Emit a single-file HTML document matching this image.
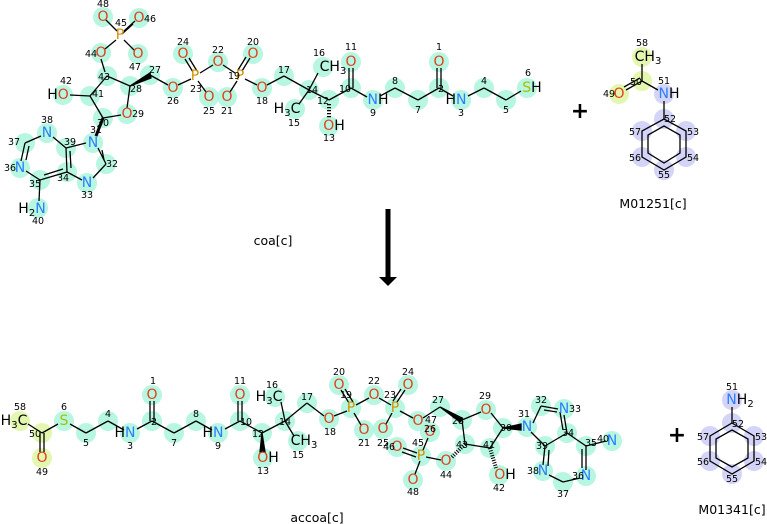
<!DOCTYPE html>
<html><head><meta charset="utf-8"><style>
html,body{margin:0;padding:0;background:#fff;width:767px;height:524px;overflow:hidden}
svg{display:block}
text{font-family:"DejaVu Sans","Liberation Sans",sans-serif}
.n{font-size:9.5px;fill:#000;text-anchor:middle}
.a{font-size:14px;text-anchor:middle;dominant-baseline:central}
.O{fill:#e0401c}.N{fill:#2a7fff}.P{fill:#d49000}.S{fill:#a8c000}.C{fill:#000}
.g circle{fill:#aaf5dc;opacity:.85}
.y circle{fill:#e4f7b0}
.v circle{fill:#d4d4f8}
line,polyline,polygon{stroke:#000;stroke-width:1.3;fill:none}
</style></head><body>
<svg width="767" height="524" viewBox="0 0 767 524">
<!-- highlight circles -->
<g class="g">
<circle cx="103" cy="17" r="10"/><circle cx="139" cy="18" r="10"/><circle cx="138" cy="54" r="10"/><circle cx="101" cy="53" r="10"/>
<circle cx="107" cy="76" r="10"/><circle cx="90" cy="96" r="10"/><circle cx="63" cy="95" r="10"/><circle cx="130" cy="86" r="10"/>
<circle cx="150" cy="75" r="10"/><circle cx="173" cy="88" r="10"/><circle cx="183" cy="54" r="10"/><circle cx="209" cy="97" r="10"/>
<circle cx="218" cy="62" r="10"/><circle cx="253" cy="54" r="10"/><circle cx="227" cy="97" r="10"/><circle cx="262" cy="88" r="10"/>
<circle cx="284" cy="76" r="10"/><circle cx="127" cy="114" r="10"/><circle cx="103" cy="118" r="10"/><circle cx="93" cy="143" r="10"/>
<circle cx="106" cy="164" r="10"/><circle cx="87" cy="183" r="10"/><circle cx="67" cy="172" r="10"/><circle cx="66" cy="148" r="10"/>
<circle cx="47" cy="133" r="10"/><circle cx="25" cy="143" r="10"/><circle cx="20" cy="168" r="10"/><circle cx="40" cy="180" r="10"/>
<circle cx="38" cy="208" r="10"/><circle cx="309" cy="90" r="10"/><circle cx="323" cy="67" r="10"/><circle cx="295" cy="109" r="10"/>
<circle cx="329" cy="100" r="10"/><circle cx="329" cy="126" r="10"/><circle cx="351" cy="88" r="10"/><circle cx="351" cy="62" r="10"/>
<circle cx="373" cy="100" r="10"/><circle cx="395" cy="88" r="10"/><circle cx="418" cy="100" r="10"/><circle cx="439" cy="88" r="10"/>
<circle cx="439" cy="62" r="10"/><circle cx="461" cy="100" r="10"/><circle cx="484" cy="88" r="10"/><circle cx="506" cy="100" r="10"/>
<circle cx="527" cy="88" r="10"/>
<!-- bottom -->
<circle cx="64" cy="421" r="10"/><circle cx="86" cy="433" r="10"/><circle cx="108" cy="421" r="10"/><circle cx="130" cy="433" r="10"/>
<circle cx="152" cy="421" r="10"/><circle cx="152" cy="395" r="10"/><circle cx="174" cy="433" r="10"/><circle cx="196" cy="421" r="10"/>
<circle cx="218" cy="433" r="10"/><circle cx="240" cy="421" r="10"/><circle cx="240" cy="395" r="10"/><circle cx="262" cy="433" r="10"/>
<circle cx="263" cy="458" r="10"/><circle cx="285" cy="421" r="10"/><circle cx="275" cy="397" r="10"/><circle cx="298" cy="441" r="10"/>
<circle cx="307" cy="403" r="10"/><circle cx="329" cy="419" r="10"/><circle cx="351" cy="408" r="10"/><circle cx="339" cy="385" r="10"/>
<circle cx="374" cy="395" r="10"/><circle cx="364" cy="430" r="10"/><circle cx="395" cy="408" r="10"/><circle cx="408" cy="385" r="10"/>
<circle cx="383" cy="429" r="10"/><circle cx="418" cy="421" r="10"/><circle cx="440" cy="407" r="10"/><circle cx="462" cy="420" r="10"/>
<circle cx="486" cy="410" r="10"/><circle cx="503" cy="428" r="10"/><circle cx="527" cy="427" r="10"/><circle cx="465" cy="444" r="10"/>
<circle cx="490" cy="448" r="10"/><circle cx="499" cy="475" r="10"/><circle cx="446" cy="461" r="10"/><circle cx="421" cy="456" r="10"/>
<circle cx="397" cy="447" r="10"/><circle cx="430" cy="432" r="10"/><circle cx="413" cy="480" r="10"/><circle cx="541" cy="406" r="10"/>
<circle cx="564" cy="409" r="10"/><circle cx="567" cy="433" r="10"/><circle cx="545" cy="446" r="10"/><circle cx="543" cy="471" r="10"/>
<circle cx="563" cy="482" r="10"/><circle cx="586" cy="476" r="10"/><circle cx="586" cy="446" r="10"/><circle cx="612" cy="441" r="10"/>
</g>
<g class="y">
<circle cx="642" cy="57" r="10"/><circle cx="642" cy="81" r="10"/><circle cx="619" cy="94" r="10"/>
<circle cx="20" cy="421" r="10"/><circle cx="42" cy="433" r="10"/><circle cx="42" cy="458" r="10"/>
</g>
<g class="v">
<circle cx="664" cy="94" r="10"/><circle cx="664" cy="119" r="10"/><circle cx="686" cy="131" r="10"/><circle cx="686" cy="157" r="10"/>
<circle cx="664" cy="170" r="10"/><circle cx="642" cy="157" r="10"/><circle cx="642" cy="131" r="10"/>
<circle cx="732" cy="400" r="10"/><circle cx="732" cy="423" r="10"/><circle cx="754" cy="436" r="10"/><circle cx="754" cy="461" r="10"/>
<circle cx="732" cy="474" r="10"/><circle cx="710" cy="461" r="10"/><circle cx="710" cy="436" r="10"/>
</g>

<!-- bonds top coa -->
<g>
<line x1="106" y1="20" x2="117" y2="31"/><line x1="124" y1="31" x2="135" y2="21"/><line x1="122" y1="34" x2="133" y2="24"/>
<line x1="124" y1="40" x2="134" y2="50"/><line x1="116" y1="40" x2="105" y2="49"/>
<line x1="101" y1="59" x2="105" y2="72"/><line x1="107" y1="76" x2="90" y2="96"/><line x1="107" y1="76" x2="130" y2="86"/>
<line x1="90" y1="96" x2="70" y2="95"/><line x1="90" y1="96" x2="103" y2="118"/><line x1="130" y1="86" x2="127" y2="108"/>
<line x1="121" y1="115" x2="103" y2="118"/><polygon points="130,86 150,73 151,78" style="fill:#000"/>
<line x1="150" y1="75" x2="168" y2="85"/><line x1="178" y1="85" x2="191" y2="79"/>
<line x1="193" y1="72" x2="185" y2="59"/><line x1="197" y1="71" x2="189" y2="58"/><line x1="198" y1="81" x2="206" y2="92"/>
<line x1="200" y1="73" x2="213" y2="65"/><line x1="223" y1="65" x2="235" y2="73"/>
<line x1="242" y1="71" x2="250" y2="58"/><line x1="238" y1="70" x2="246" y2="57"/><line x1="237" y1="81" x2="230" y2="92"/>
<line x1="245" y1="79" x2="257" y2="85"/><line x1="267" y1="85" x2="284" y2="76"/><line x1="284" y1="76" x2="309" y2="90"/>
<line x1="309" y1="90" x2="318" y2="73"/><line x1="309" y1="90" x2="299" y2="104"/><line x1="309" y1="90" x2="329" y2="100"/>
<line x1="329" y1="100" x2="351" y2="88"/><line x1="349" y1="88" x2="349" y2="68"/><line x1="353" y1="88" x2="353" y2="68"/>
<line x1="351" y1="88" x2="367" y2="97"/><line x1="380" y1="96" x2="395" y2="88"/><line x1="395" y1="88" x2="418" y2="100"/>
<line x1="418" y1="100" x2="439" y2="88"/><line x1="437" y1="88" x2="437" y2="68"/><line x1="441" y1="88" x2="441" y2="68"/>
<line x1="439" y1="88" x2="453" y2="96"/><line x1="468" y1="96" x2="484" y2="88"/><line x1="484" y1="88" x2="506" y2="100"/>
<line x1="506" y1="100" x2="521" y2="91"/>
<line x1="329" y1="104" x2="329" y2="119" stroke-dasharray="1.2,1.8" style="stroke-width:4"/>
<line x1="103" y1="118" x2="96" y2="136" style="stroke-width:3"/>
<line x1="86" y1="143" x2="66" y2="148"/><line x1="98" y1="148" x2="106" y2="164"/><line x1="102" y1="150" x2="104" y2="160"/>
<line x1="106" y1="164" x2="93" y2="178"/><line x1="82" y1="180" x2="67" y2="172"/><line x1="67" y1="172" x2="66" y2="148"/>
<line x1="66" y1="148" x2="53" y2="137"/><line x1="41" y1="136" x2="25" y2="143"/><line x1="25" y1="143" x2="21" y2="161"/>
<line x1="26" y1="171" x2="40" y2="180"/><line x1="40" y1="180" x2="67" y2="172"/><line x1="40" y1="180" x2="39" y2="201"/>
<line x1="29" y1="146" x2="26" y2="160"/><line x1="44" y1="175" x2="63" y2="169"/><line x1="70" y1="151" x2="71" y2="168"/>
</g>
<!-- bonds bottom accoa -->
<g>
<line x1="28" y1="424" x2="42" y2="433"/><line x1="40" y1="433" x2="40" y2="452"/><line x1="44" y1="433" x2="44" y2="452"/>
<line x1="42" y1="433" x2="58" y2="424"/><line x1="70" y1="424" x2="86" y2="433"/><line x1="86" y1="433" x2="108" y2="421"/>
<line x1="108" y1="421" x2="124" y2="430"/><line x1="137" y1="429" x2="152" y2="421"/><line x1="150" y1="421" x2="150" y2="401"/>
<line x1="154" y1="421" x2="154" y2="401"/><line x1="152" y1="421" x2="174" y2="433"/><line x1="174" y1="433" x2="196" y2="421"/>
<line x1="196" y1="421" x2="212" y2="430"/><line x1="225" y1="429" x2="240" y2="421"/><line x1="238" y1="421" x2="238" y2="401"/>
<line x1="242" y1="421" x2="242" y2="401"/><line x1="240" y1="421" x2="262" y2="433"/><line x1="262" y1="433" x2="285" y2="421"/>
<polygon points="262,433 260,452 265,452" style="fill:#000"/>
<line x1="285" y1="421" x2="281" y2="402"/><line x1="285" y1="421" x2="294" y2="436"/><line x1="285" y1="421" x2="307" y2="403"/>
<line x1="307" y1="403" x2="324" y2="416"/><line x1="334" y1="416" x2="347" y2="411"/>
<line x1="349" y1="403" x2="341" y2="390"/><line x1="353" y1="402" x2="345" y2="389"/><line x1="354" y1="413" x2="361" y2="425"/>
<line x1="356" y1="405" x2="369" y2="398"/><line x1="379" y1="398" x2="391" y2="405"/>
<line x1="397" y1="402" x2="405" y2="390"/><line x1="393" y1="401" x2="401" y2="389"/><line x1="392" y1="413" x2="386" y2="424"/>
<line x1="400" y1="411" x2="413" y2="418"/><line x1="423" y1="418" x2="440" y2="407"/><polygon points="440,407 462,418 460,422" style="fill:#000"/>
<line x1="462" y1="420" x2="481" y2="412"/><line x1="491" y1="413" x2="503" y2="428"/><polygon points="503,428 521,424 521,430" style="fill:#000"/>
<line x1="462" y1="420" x2="465" y2="444"/><line x1="465" y1="444" x2="490" y2="448"/><line x1="490" y1="448" x2="503" y2="428"/>
<line x1="465" y1="444" x2="451" y2="458" stroke-dasharray="1,1.5" style="stroke-width:4"/>
<line x1="490" y1="448" x2="496" y2="468" stroke-dasharray="1,1.5" style="stroke-width:4"/>
<line x1="441" y1="460" x2="426" y2="457"/><line x1="423" y1="450" x2="428" y2="438"/><line x1="420" y1="461" x2="415" y2="474"/>
<line x1="417" y1="453" x2="403" y2="448"/><line x1="416" y1="457" x2="402" y2="452"/>
<line x1="533" y1="423" x2="541" y2="406"/><line x1="541" y1="406" x2="558" y2="409"/><line x1="544" y1="410" x2="557" y2="412"/>
<line x1="564" y1="415" x2="567" y2="433"/><line x1="567" y1="433" x2="545" y2="446"/><line x1="531" y1="432" x2="545" y2="446"/>
<line x1="545" y1="446" x2="543" y2="465"/><line x1="549" y1="475" x2="563" y2="482"/><line x1="563" y1="482" x2="580" y2="478"/>
<line x1="586" y1="470" x2="586" y2="446"/><line x1="586" y1="446" x2="567" y2="433"/><line x1="586" y1="446" x2="606" y2="441"/>
<line x1="560" y1="412" x2="563" y2="430"/><line x1="549" y1="450" x2="548" y2="466"/><line x1="582" y1="449" x2="582" y2="468"/>
</g>
<!-- M01251 -->
<g>
<line x1="642" y1="64" x2="642" y2="81"/><line x1="642" y1="81" x2="626" y2="90"/><line x1="640" y1="78" x2="624" y2="87"/>
<line x1="642" y1="81" x2="658" y2="90"/><line x1="664" y1="101" x2="664" y2="119"/>
<polygon points="664,119 686,131 686,157 664,170 642,157 642,131"/>
<polygon points="664,126 680,135 680,153 664,163 648,153 648,135"/>
</g>
<!-- M01341 -->
<g>
<line x1="732" y1="407" x2="732" y2="423"/>
<polygon points="732,423 754,436 754,461 732,474 710,461 710,436"/>
<polygon points="732,430 748,439 748,458 732,467 716,458 716,439"/>
</g>

<!-- atom labels top -->
<g class="a">
<text x="103" y="17" class="O">O</text><text x="139" y="18" class="O">O</text><text x="120" y="35" class="P">P</text>
<text x="138" y="54" class="O">O</text><text x="101" y="53" class="O">O</text>
<text x="58" y="95"><tspan class="C">H</tspan><tspan class="O">O</tspan></text>
<text x="173" y="88" class="O">O</text><text x="195" y="76" class="P">P</text><text x="183" y="54" class="O">O</text>
<text x="209" y="97" class="O">O</text><text x="218" y="62" class="O">O</text><text x="240" y="76" class="P">P</text>
<text x="253" y="54" class="O">O</text><text x="227" y="97" class="O">O</text><text x="262" y="88" class="O">O</text>
<text x="127" y="114" class="O">O</text><text x="93" y="143" class="N">N</text><text x="87" y="183" class="N">N</text>
<text x="47" y="133" class="N">N</text><text x="20" y="168" class="N">N</text>
<text x="32" y="209"><tspan class="C">H</tspan><tspan class="C" font-size="10" dy="4">2</tspan><tspan class="N" dy="-4">N</tspan></text>
<text x="333" y="67"><tspan class="C">CH</tspan><tspan font-size="10" dy="4">3</tspan></text>
<text x="287" y="109"><tspan>H</tspan><tspan font-size="10" dy="4">3</tspan><tspan dy="-4">C</tspan></text>
<text x="334" y="126"><tspan class="O">O</tspan><tspan>H</tspan></text>
<text x="351" y="62" class="O">O</text><text x="378" y="100"><tspan class="N">N</tspan><tspan>H</tspan></text>
<text x="439" y="62" class="O">O</text><text x="456" y="100"><tspan>H</tspan><tspan class="N">N</tspan></text>
<text x="532" y="88"><tspan class="S">S</tspan><tspan>H</tspan></text>
</g>
<!-- atom labels bottom -->
<g class="a">
<text x="14" y="421"><tspan>H</tspan><tspan font-size="10" dy="4">3</tspan><tspan dy="-4">C</tspan></text>
<text x="42" y="458" class="O">O</text><text x="64" y="421" class="S">S</text>
<text x="125" y="433"><tspan>H</tspan><tspan class="N">N</tspan></text><text x="152" y="395" class="O">O</text>
<text x="213" y="433"><tspan>H</tspan><tspan class="N">N</tspan></text><text x="240" y="395" class="O">O</text>
<text x="268" y="458"><tspan class="O">O</tspan><tspan>H</tspan></text>
<text x="269" y="397"><tspan>H</tspan><tspan font-size="10" dy="4">3</tspan><tspan dy="-4">C</tspan></text>
<text x="304" y="441"><tspan>CH</tspan><tspan font-size="10" dy="4">3</tspan></text>
<text x="329" y="419" class="O">O</text><text x="351" y="408" class="P">P</text><text x="339" y="385" class="O">O</text>
<text x="374" y="395" class="O">O</text><text x="364" y="430" class="O">O</text><text x="395" y="408" class="P">P</text>
<text x="408" y="385" class="O">O</text><text x="383" y="429" class="O">O</text><text x="418" y="421" class="O">O</text>
<text x="486" y="410" class="O">O</text><text x="527" y="427" class="N">N</text>
<text x="505" y="475"><tspan class="O">O</tspan><tspan>H</tspan></text>
<text x="446" y="461" class="O">O</text><text x="421" y="456" class="P">P</text><text x="397" y="447" class="O">O</text>
<text x="430" y="432" class="O">O</text><text x="413" y="480" class="O">O</text>
<text x="564" y="409" class="N">N</text><text x="543" y="471" class="N">N</text><text x="586" y="476" class="N">N</text>
<text x="612" y="441" class="N">N</text>
</g>
<g class="a">
<text x="648" y="57"><tspan>CH</tspan><tspan font-size="10" dy="4">3</tspan></text>
<text x="619" y="94" class="O">O</text><text x="669" y="94"><tspan class="N">N</tspan><tspan>H</tspan></text>
<text x="740" y="400"><tspan class="N">N</tspan><tspan>H</tspan><tspan font-size="10" dy="4">2</tspan></text>
</g>

<!-- numbers top -->
<g class="n">
<text x="103" y="7">48</text><text x="150" y="22">46</text><text x="121" y="26">45</text><text x="135" y="70">47</text>
<text x="91" y="57">44</text><text x="104" y="80">43</text><text x="98" y="97">41</text><text x="66" y="84">42</text>
<text x="136" y="92">28</text><text x="155" y="73">27</text><text x="173" y="104">26</text><text x="183" y="45">24</text>
<text x="196" y="92">23</text><text x="209" y="114">25</text><text x="218" y="53">22</text><text x="234" y="79">19</text>
<text x="253" y="45">20</text><text x="227" y="114">21</text><text x="262" y="104">18</text><text x="284" y="73">17</text>
<text x="138" y="117">29</text><text x="103" y="126">30</text><text x="96" y="133">31</text><text x="112" y="167">32</text>
<text x="87" y="198">33</text><text x="63" y="181">34</text><text x="70" y="145">39</text><text x="47" y="123">38</text>
<text x="14" y="145">37</text><text x="10" y="171">36</text><text x="35" y="187">35</text><text x="38" y="224">40</text>
<text x="319" y="56">16</text><text x="294" y="126">15</text><text x="312" y="93">14</text><text x="323" y="104">12</text>
<text x="329" y="141">13</text><text x="345" y="92">10</text><text x="351" y="50">11</text><text x="373" y="116">9</text>
<text x="395" y="84">8</text><text x="418" y="113">7</text><text x="441" y="92">2</text><text x="439" y="50">1</text>
<text x="461" y="116">3</text><text x="484" y="84">4</text><text x="506" y="113">5</text><text x="528" y="76">6</text>
</g>
<!-- numbers bottom -->
<g class="n">
<text x="20" y="410">58</text><text x="35" y="437">50</text><text x="42" y="475">49</text><text x="64" y="410">6</text>
<text x="86" y="446">5</text><text x="108" y="417">4</text><text x="130" y="449">3</text><text x="154" y="425">2</text>
<text x="153" y="384">1</text><text x="174" y="446">7</text><text x="196" y="417">8</text><text x="218" y="449">9</text>
<text x="246" y="425">10</text><text x="240" y="384">11</text><text x="258" y="437">12</text><text x="263" y="474">13</text>
<text x="285" y="425">14</text><text x="272" y="388">16</text><text x="298" y="458">15</text><text x="307" y="400">17</text>
<text x="330" y="435">18</text><text x="346" y="398">19</text><text x="339" y="375">20</text><text x="374" y="384">22</text>
<text x="364" y="446">21</text><text x="390" y="398">23</text><text x="408" y="375">24</text><text x="383" y="446">25</text>
<text x="431" y="423">47</text><text x="438" y="403">27</text><text x="458" y="424">28</text><text x="485" y="399">29</text>
<text x="506" y="431">30</text><text x="524" y="417">31</text><text x="541" y="403">32</text><text x="575" y="412">33</text>
<text x="568" y="436">34</text><text x="542" y="449">39</text><text x="533" y="474">38</text><text x="563" y="497">37</text>
<text x="578" y="479">36</text><text x="591" y="446">35</text><text x="603" y="442">40</text><text x="462" y="448">43</text>
<text x="489" y="448">41</text><text x="499" y="491">42</text><text x="446" y="478">44</text><text x="418" y="446">45</text>
<text x="389" y="450">46</text><text x="430" y="432">26</text><text x="413" y="495">48</text>
</g>
<g class="n">
<text x="642" y="46">58</text><text x="636" y="85">50</text><text x="609" y="97">49</text><text x="664" y="84">51</text>
<text x="670" y="122">52</text><text x="693" y="135">53</text><text x="693" y="161">54</text><text x="664" y="178">55</text>
<text x="635" y="161">56</text><text x="635" y="135">57</text>
<text x="732" y="390">51</text><text x="738" y="427">52</text><text x="761" y="440">53</text><text x="761" y="465">54</text>
<text x="732" y="482">55</text><text x="703" y="465">56</text><text x="703" y="440">57</text>
</g>

<!-- names, plus, arrow -->
<g style="font-size:12.5px;text-anchor:middle">
<text x="273" y="245">coa[c]</text><text x="317" y="522">accoa[c]</text>
<text x="653" y="208">M01251[c]</text><text x="732" y="514">M01341[c]</text>
</g>
<g style="font-size:22px;font-weight:bold;text-anchor:middle">
<text x="580" y="118">+</text><text x="677" y="442">+</text>
</g>
<rect x="385.5" y="209" width="5" height="68" fill="#000"/>
<polygon points="379,277 397,277 388,286" style="fill:#000;stroke:none"/>
</svg>
</body></html>
